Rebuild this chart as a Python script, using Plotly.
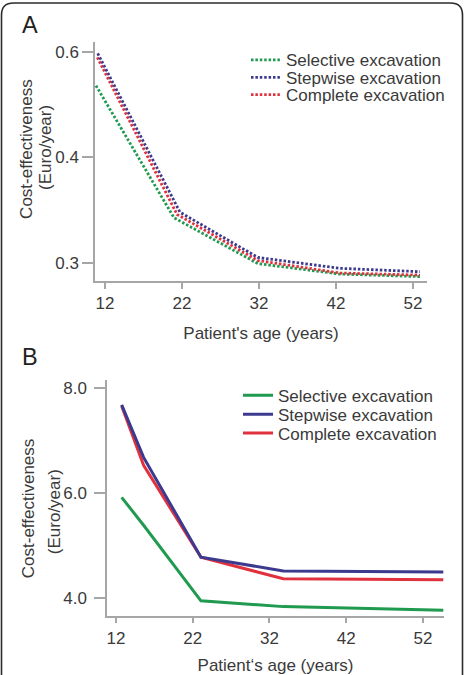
import plotly.graph_objects as go

# ---------------- data ----------------
series_names = ["Selective excavation", "Stepwise excavation", "Complete excavation"]

# Panel A (cost-effectiveness, Euro/year)
age_a_sel = [10.83, 20.96, 31.87, 42.52, 52.91]
age_a_step = [11.05, 21.74, 31.87, 42.52, 52.91]
age_a_comp = [11.00, 21.35, 31.87, 42.52, 52.91]
ce_a_sel = [0.517, 0.336, 0.2996, 0.2924, 0.2907]
ce_a_step = [0.595, 0.341, 0.304, 0.2963, 0.2940]
ce_a_comp = [0.584, 0.339, 0.3018, 0.2931, 0.2917]
ytick_a = [0.6, 0.4, 0.3]

# Panel B
age_b = [12.74, 15.6, 23.07, 33.8, 54.65]
ce_b_sel = [5.92, 5.39, 3.95, 3.84, 3.77]
ce_b_step = [7.68, 6.68, 4.78, 4.52, 4.50]
ce_b_comp = [7.66, 6.53, 4.78, 4.37, 4.35]
ytick_b = [8.0, 6.0, 4.0]

xticks = [12, 22, 32, 42, 52]
x_title_a = "Patient's age (years)"
x_title_b = "Patient‘s age (years)"
y_title_lines = ["Cost-effectiveness", "(Euro/year)"]

# ---------------- style ----------------
W, H = 465, 675
GREEN = "#1f9a4f"
BLUE = "#3b3a8e"
RED = "#e0323e"
TXT = "#3a3a3a"
AX = "#a6a6a6"
FS = 17
FONT = "Liberation Sans, Arial, sans-serif"


def px_x(p):
    return p / W


def px_y(p):
    return 1 - p / H


fig = go.Figure()

# Panel A (reciprocal-spaced y axis)
a_sets = [
    (series_names[0], age_a_sel, ce_a_sel, GREEN, "legend"),
    (series_names[2], age_a_comp, ce_a_comp, RED, "legend3"),
    (series_names[1], age_a_step, ce_a_step, BLUE, "legend2"),
]
for name, xs, ys, col, lg in a_sets:
    fig.add_trace(go.Scatter(
        x=xs, y=[1 / v for v in ys], customdata=ys, name=name, mode="lines",
        line=dict(color=col, width=2.8, dash="2.5px,1.9px"),
        xaxis="x", yaxis="y", legend=lg, showlegend=True,
        hovertemplate="%{x}<br>%{customdata}<extra>" + name + "</extra>",
    ))

b_sets = [
    (series_names[0], ce_b_sel, GREEN, "legend4"),
    (series_names[2], ce_b_comp, RED, "legend6"),
    (series_names[1], ce_b_step, BLUE, "legend5"),
]
for name, ys, col, lg in b_sets:
    fig.add_trace(go.Scatter(
        x=age_b, y=ys, name=name, mode="lines",
        line=dict(color=col, width=3),
        xaxis="x2", yaxis="y2", legend=lg, showlegend=True,
    ))

axis_common = dict(
    showline=True, linecolor=AX, linewidth=1.5, ticks="outside",
    tickcolor=AX, tickwidth=1.5, showgrid=False, zeroline=False,
    tickfont=dict(size=FS, color=TXT, family=FONT),
)

title_font = dict(size=FS, color=TXT, family=FONT)

fig.update_layout(
    width=W, height=H,
    showlegend=True,
    margin=dict(l=0, r=0, t=0, b=0),
    paper_bgcolor="white", plot_bgcolor="white",
    font=dict(family=FONT, color=TXT, size=FS),
    xaxis=dict(axis_common, domain=[px_x(95), px_x(427)], range=[10.70, 53.82],
               tickvals=xticks, ticklen=6, anchor="y",
               title=dict(text=x_title_a, font=title_font)),
    yaxis=dict(axis_common, domain=[px_y(282), px_y(41)], range=[3.474, 1.588],
               tickvals=[1 / v for v in ytick_a],
               ticktext=["%.1f" % v for v in ytick_a], ticklen=11, anchor="x"),
    xaxis2=dict(axis_common, domain=[px_x(107), px_x(444)], range=[10.83, 54.74],
                tickvals=xticks, ticklen=6, anchor="y2",
                title=dict(text=x_title_b, font=title_font)),
    yaxis2=dict(axis_common, domain=[px_y(619.3), px_y(381.7)], range=[3.667, 8.157],
                tickvals=ytick_b, ticktext=["%.1f" % v for v in ytick_b],
                ticklen=11, anchor="x2", ticklabelstandoff=4),
)

legend_pos = {
    "legend": (286, 59.7),
    "legend2": (286, 77.3),
    "legend3": (286, 94.7),
    "legend4": (278, 397.7),
    "legend5": (278, 416.7),
    "legend6": (278, 435.7),
}
for key, (tx, ty) in legend_pos.items():
    fig.update_layout({key: dict(
        x=px_x(tx - 40), y=px_y(ty), xanchor="left", yanchor="middle",
        bgcolor="rgba(0,0,0,0)", borderwidth=0, visible=True,
        font=dict(size=FS, color=TXT, family=FONT),
    )})

# y-axis titles (two rotated lines per panel)
ytitle_pos = [
    ((27, 149), (46, 148)),
    ((28, 511), (54, 515)),
]
for (p1, p2) in ytitle_pos:
    for txt, (px, py) in zip(y_title_lines, (p1, p2)):
        fig.add_annotation(text=txt, x=px_x(px), y=px_y(py), xref="paper", yref="paper",
                           showarrow=False, textangle=-90, xanchor="center",
                           yanchor="middle", font=title_font)

fig.add_annotation(text="A", x=px_x(30), y=px_y(24.5), xref="paper", yref="paper",
                   showarrow=False, xanchor="center", yanchor="middle",
                   font=dict(size=23.5, color="#222222", family=FONT))
fig.add_annotation(text="B", x=px_x(29.5), y=px_y(358.5), xref="paper", yref="paper",
                   showarrow=False, xanchor="center", yanchor="middle",
                   font=dict(size=23.5, color="#222222", family=FONT))

# rounded outer frame (cropped at the bottom)
x0, x1 = px_x(1.5), px_x(462.5)
yt, yb = px_y(2), -0.02
rx, ry = 12 / W, 12 / H
path = (f"M{x0},{yb} L{x0},{yt - ry} Q{x0},{yt} {x0 + rx},{yt} "
        f"L{x1 - rx},{yt} Q{x1},{yt} {x1},{yt - ry} L{x1},{yb}")
fig.add_shape(type="path", path=path, xref="paper", yref="paper",
              line=dict(color="#2b2b2b", width=1.6))

fig.write_html("out.html")
